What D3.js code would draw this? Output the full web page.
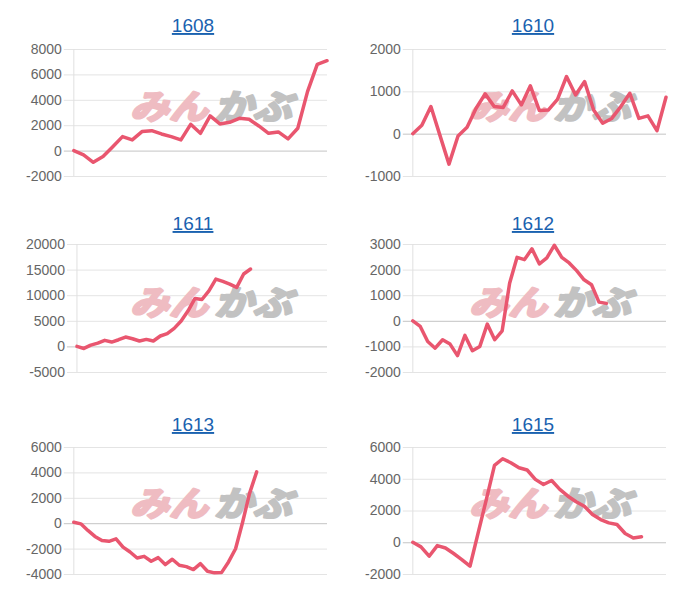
<!DOCTYPE html>
<html><head><meta charset="utf-8">
<script src="https://cdn.jsdelivr.net/npm/d3@7"></script>
<style>body{margin:0;background:#fff}</style>
</head><body><svg id="c" width="700" height="600"></svg>
<script>
// ---- data ----
const titles = ["1608", "1610", "1611", "1612", "1613", "1615"];
const slotCounts = [27, 29, 37, 35, 37, 32];

const ticks1608 = [-2000, 0, 2000, 4000, 6000, 8000];
const ticks1610 = [-1000, 0, 1000, 2000];
const ticks1611 = [-5000, 0, 5000, 10000, 15000, 20000];
const ticks1612 = [-2000, -1000, 0, 1000, 2000, 3000];
const ticks1613 = [-4000, -2000, 0, 2000, 4000, 6000];
const ticks1615 = [-2000, 0, 2000, 4000, 6000];

const values1608 = [0, -340, -920, -470, 310, 1100, 840, 1500, 1570, 1310, 1100, 840, 2070, 1360, 2730, 2100, 2230, 2540, 2470, 1940, 1360, 1470, 920, 1760, 4640, 6790, 7080];
const values1610 = [0, 200, 640, -40, -720, -55, 150, 600, 940, 640, 620, 1010, 680, 1130, 545, 560, 810, 1350, 915, 1230, 560, 245, 360, 640, 955, 360, 420, 70, 860];
const values1611 = [0, -400, 260, 650, 1180, 850, 1300, 1830, 1500, 1050, 1370, 1050, 2030, 2490, 3530, 4970, 6940, 9360, 9160, 10860, 13150, 12700, 12170, 11520, 14140, 15120];
const values1612 = [0, -220, -810, -1070, -740, -910, -1360, -570, -1170, -1000, -130, -740, -390, 1470, 2480, 2390, 2810, 2220, 2460, 2950, 2480, 2260, 1960, 1600, 1410, 730, 680];
const values1613 = [80, -50, -570, -1040, -1360, -1430, -1230, -1880, -2270, -2740, -2610, -3000, -2710, -3260, -2840, -3310, -3420, -3650, -3180, -3780, -3910, -3890, -3050, -2010, 80, 2370, 4040];
const values1615 = [0, -290, -880, -210, -360, -710, -1090, -1510, 590, 2690, 4840, 5260, 5010, 4690, 4550, 3960, 3640, 3890, 3330, 2900, 2550, 2270, 1750, 1430, 1220, 1120, 550, 270, 340];

const seriesValues = [values1608, values1610, values1611, values1612, values1613, values1615];
const seriesTicks = [ticks1608, ticks1610, ticks1611, ticks1612, ticks1613, ticks1615];

// ---- layout ----
const colLabelLeft = [26, 365];
const colRight = [327, 666];
const colTitleX = [193, 533];
const colLogoX = [128, 467];
const rowTop = [49, 244, 447];
const rowBottom = [176, 372, 574];
const rowTitleY = [32, 230, 431];
const rowLogoY = [106, 302, 503];

const svg = d3.select("#c");
const labelFont = "14px 'Liberation Sans', Arial, sans-serif";

titles.forEach((title, i) => {
  const col = i % 2, row = Math.floor(i / 2);
  const values = seriesValues[i], tks = seriesTicks[i];
  const g = svg.append("g");

  // measure widest tick label
  const tmp = g.append("g");
  let maxW = 0;
  tks.forEach(t => {
    const tt = tmp.append("text").style("font", labelFont).text(String(t));
    maxW = Math.max(maxW, tt.node().getComputedTextLength());
  });
  tmp.remove();

  const left = colLabelLeft[col] + maxW + 12;
  const right = colRight[col];
  const top = rowTop[row], bottom = rowBottom[row];

  const y = d3.scaleLinear().domain(d3.extent(tks)).range([bottom, top]);
  const x = d3.scaleLinear().domain([0, slotCounts[i] - 1]).range([left, right]);

  // title
  g.append("text")
    .attr("x", colTitleX[col]).attr("y", rowTitleY[row])
    .attr("text-anchor", "middle")
    .attr("fill", "#1a62b0")
    .style("font", "19px 'Liberation Sans', Arial, sans-serif")
    .style("text-decoration", "underline")
    .text(title);

  // y axis with grid
  const yAxis = d3.axisLeft(y).tickValues(tks).tickSize(0).tickPadding(12).tickFormat(d => String(d));
  const ag = g.append("g").attr("transform", `translate(${left},0)`).call(yAxis);
  ag.select(".domain").remove();
  ag.selectAll(".tick line")
    .attr("x1", -10).attr("x2", right - left)
    .attr("stroke", d => d === 0 ? "#c4c4c4" : "#e4e4e4")
    .attr("stroke-width", 1);
  ag.selectAll(".tick text").attr("fill", "#666").style("font", labelFont);

  // left border
  g.append("line")
    .attr("x1", left).attr("x2", left).attr("y1", top).attr("y2", bottom)
    .attr("stroke", "#e0e0e0");

  // watermark
  const wm = g.append("g");
  wm.append("text")
    .attr("x", colLogoX[col] + 2).attr("y", rowLogoY[row] + 13)
    .attr("textLength", 78).attr("lengthAdjust", "spacingAndGlyphs")
    .attr("fill", "#efbcc2").attr("stroke", "#efbcc2").attr("stroke-width", 2.5)
    .attr("stroke-linejoin", "round")
    .style("font", "italic bold 34px 'Noto Sans CJK JP', sans-serif")
    .text("みん");
  wm.append("text")
    .attr("x", colLogoX[col] + 86).attr("y", rowLogoY[row] + 13)
    .attr("textLength", 78).attr("lengthAdjust", "spacingAndGlyphs")
    .attr("fill", "#c2c2c2").attr("stroke", "#c2c2c2").attr("stroke-width", 2.5)
    .attr("stroke-linejoin", "round")
    .style("font", "italic bold 34px 'Noto Sans CJK JP', sans-serif")
    .text("かぶ");

  // line
  const line = d3.line().x((d, k) => x(k)).y(d => y(d));
  g.append("path")
    .datum(values)
    .attr("d", line)
    .attr("fill", "none")
    .attr("stroke", "#e9566f")
    .attr("stroke-width", 3.5)
    .attr("stroke-linejoin", "round")
    .attr("stroke-linecap", "round");
});
</script>
</body></html>
